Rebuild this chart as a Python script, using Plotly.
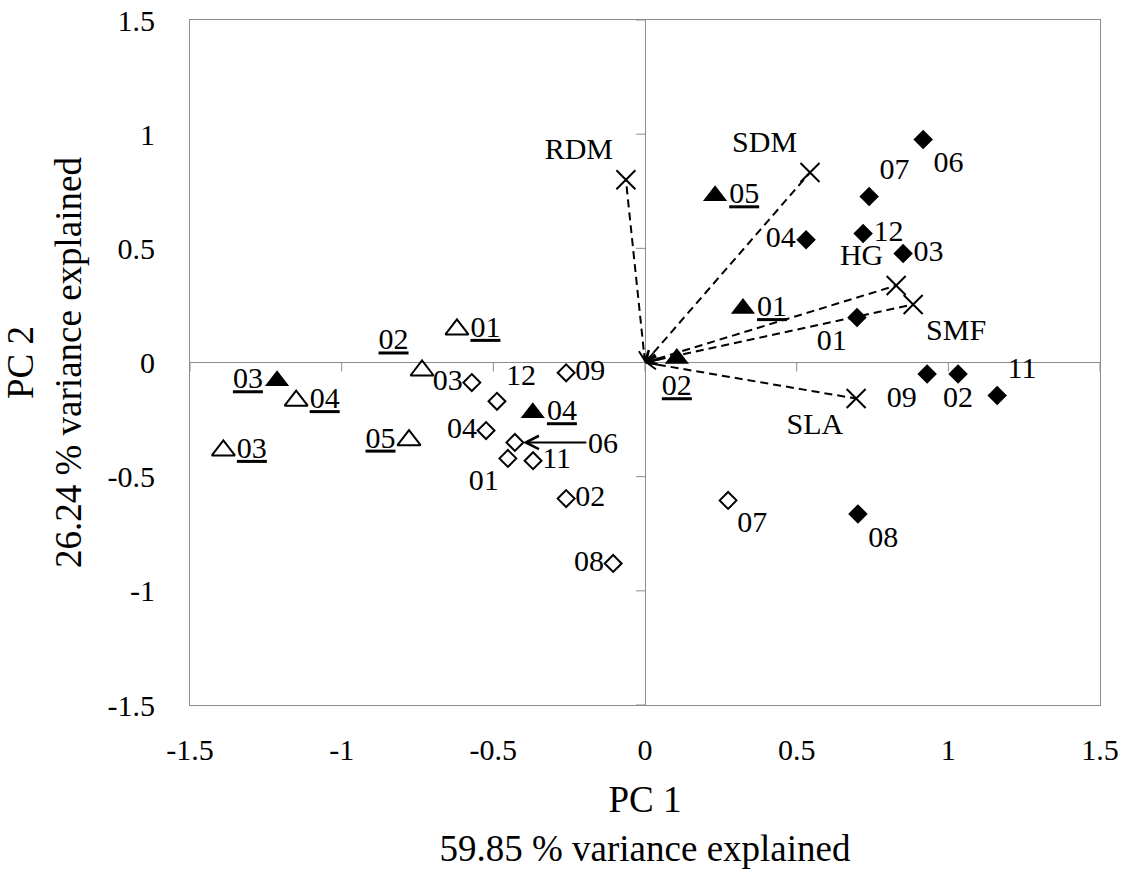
import plotly.graph_objects as go

# ---------------- data ----------------
# open triangles (labels underlined)
otri_x = [-0.62, -0.735, -1.15, -1.39, -0.778]
otri_y = [0.145, -0.035, -0.167, -0.385, -0.34]
otri_lab = ["01", "02", "04", "03", "05"]

# filled triangles (labels underlined)
ftri_x = [-1.213, -0.37, 0.231, 0.323, 0.105]
ftri_y = [-0.08, -0.22, 0.73, 0.236, 0.017]
ftri_lab = ["03", "04", "05", "01", "02"]

# open diamonds
odia_x = [-0.571, -0.488, -0.524, -0.452, -0.369, -0.26, -0.26, -0.105, 0.274]
odia_y = [-0.088, -0.17, -0.298, -0.42, -0.43, -0.045, -0.596, -0.88, -0.604]
odia_lab = ["03", "12", "04", "01", "11", "09", "02", "08", "07"]
# open diamond labelled with an arrow
odia_arrow_x = [-0.429]
odia_arrow_y = [-0.35]
odia_arrow_lab = ["06"]

# filled diamonds
fdia_x = [0.917, 0.739, 0.719, 0.531, 0.851, 0.699, 0.93, 1.032, 1.161, 0.702]
fdia_y = [0.977, 0.727, 0.565, 0.538, 0.477, 0.197, -0.05, -0.05, -0.144, -0.663]
fdia_lab = ["06", "07", "12", "04", "03", "01", "09", "02", "11", "08"]

# variable loadings (vectors)
var_x = [-0.063, 0.544, 0.828, 0.884, 0.696]
var_y = [0.80, 0.832, 0.337, 0.254, -0.158]
var_lab = ["RDM", "SDM", "HG", "SMF", "SLA"]

tick_vals = [-1.5, -1, -0.5, 0, 0.5, 1, 1.5]
tick_text = ["-1.5", "-1", "-0.5", "0", "0.5", "1", "1.5"]

# label placement (style)
otri_pos = ["middle right", "top left", "middle right", "middle right", "middle left"]
ftri_pos = ["middle left", "middle right", "middle right", "middle right", "bottom center"]
odia_pos = ["middle left", "top right", "middle left", "bottom left", "middle right",
            "middle right", "middle right", "middle left", "bottom right"]
fdia_pos = ["bottom right", "top right", "middle right", "middle left", "middle right",
            "bottom left", "bottom left", "bottom center", "top right", "bottom right"]
var_pos = ["top left", "top left", "top left", "bottom right", "bottom left"]

FONT = "Liberation Serif"
LABEL_FONT = dict(family=FONT, size=30, color="black")
GRAY = "#8c8c8c"

fig = go.Figure()

# dashed vectors
for vx, vy in zip(var_x, var_y):
    fig.add_trace(go.Scatter(x=[0, vx], y=[0, vy], mode="lines",
                             line=dict(color="black", width=2, dash="8px,5px"),
                             showlegend=False, hoverinfo="skip"))
    k = 0.06
    fig.add_annotation(x=0, y=0, ax=vx * k, ay=vy * k, axref="x", ayref="y",
                       xref="x", yref="y", text="", showarrow=True,
                       arrowhead=5, arrowwidth=1.6, arrowsize=1.2, arrowcolor="black")

fig.add_trace(go.Scatter(
    x=otri_x, y=otri_y, mode="markers+text",
    text=["<u>%s</u>" % t for t in otri_lab], textposition=otri_pos,
    textfont=LABEL_FONT,
    marker=dict(symbol="triangle-up-open", size=20, color="black",
                line=dict(color="black", width=2)),
    showlegend=False))

fig.add_trace(go.Scatter(
    x=ftri_x, y=ftri_y, mode="markers+text",
    text=["<u>%s</u>" % t for t in ftri_lab], textposition=ftri_pos,
    textfont=LABEL_FONT,
    marker=dict(symbol="triangle-up", size=21, color="black"),
    showlegend=False))

fig.add_trace(go.Scatter(
    x=odia_x + odia_arrow_x, y=odia_y + odia_arrow_y, mode="markers+text",
    text=odia_lab + [""], textposition=odia_pos + ["middle right"],
    textfont=LABEL_FONT,
    marker=dict(symbol="diamond-open", size=13, color="black",
                line=dict(color="black", width=2)),
    showlegend=False))

for ax_, ay_, lab in zip(odia_arrow_x, odia_arrow_y, odia_arrow_lab):
    fig.add_annotation(x=ax_, y=ay_, ax=88, ay=0, text=lab, showarrow=True,
                       arrowhead=5, arrowwidth=2, arrowsize=1.3, arrowcolor="black",
                       standoff=8, font=LABEL_FONT)

fig.add_trace(go.Scatter(
    x=fdia_x, y=fdia_y, mode="markers+text",
    text=fdia_lab, textposition=fdia_pos, textfont=LABEL_FONT,
    marker=dict(symbol="diamond", size=15, color="black"),
    showlegend=False))

fig.add_trace(go.Scatter(
    x=var_x, y=var_y, mode="markers+text",
    text=var_lab, textposition=var_pos, textfont=LABEL_FONT,
    marker=dict(symbol="x-thin-open", size=19, color="black",
                line=dict(color="black", width=2)),
    showlegend=False))

# tick marks on the crossing axes
for tv in tick_vals:
    fig.add_shape(type="line", xref="x", yref="y", ysizemode="pixel", yanchor=0,
                  x0=tv, x1=tv, y0=0, y1=-9, line=dict(color=GRAY, width=1))
    fig.add_shape(type="line", xref="x", yref="y", xsizemode="pixel", xanchor=0,
                  y0=tv, y1=tv, x0=0, x1=-9, line=dict(color=GRAY, width=1))

axis_common = dict(
    tickvals=tick_vals, ticktext=tick_text, ticks="", showgrid=False,
    zeroline=True, zerolinecolor=GRAY, zerolinewidth=1,
    showline=True, linecolor=GRAY, linewidth=1, mirror=True,
    tickfont=dict(family=FONT, size=30, color="black"),
    automargin=False,
)

fig.update_layout(
    width=1129, height=877,
    margin=dict(l=190, r=29, t=20, b=172),
    plot_bgcolor="white", paper_bgcolor="white",
    font=dict(family=FONT, color="black"),
    xaxis=dict(range=[-1.5, 1.5],
               title=dict(text="PC 1<br>59.85 % variance explained",
                          font=dict(family=FONT, size=37, color="black"),
                          standoff=21),
               ticklabelstandoff=18,
               **axis_common),
    yaxis=dict(range=[-1.5, 1.5],
               title=dict(text="PC 2<br>26.24 % variance explained",
                          font=dict(family=FONT, size=37, color="black"),
                          standoff=18),
               ticklabelstandoff=28,
               **axis_common),
)

fig.write_html("out.html")
